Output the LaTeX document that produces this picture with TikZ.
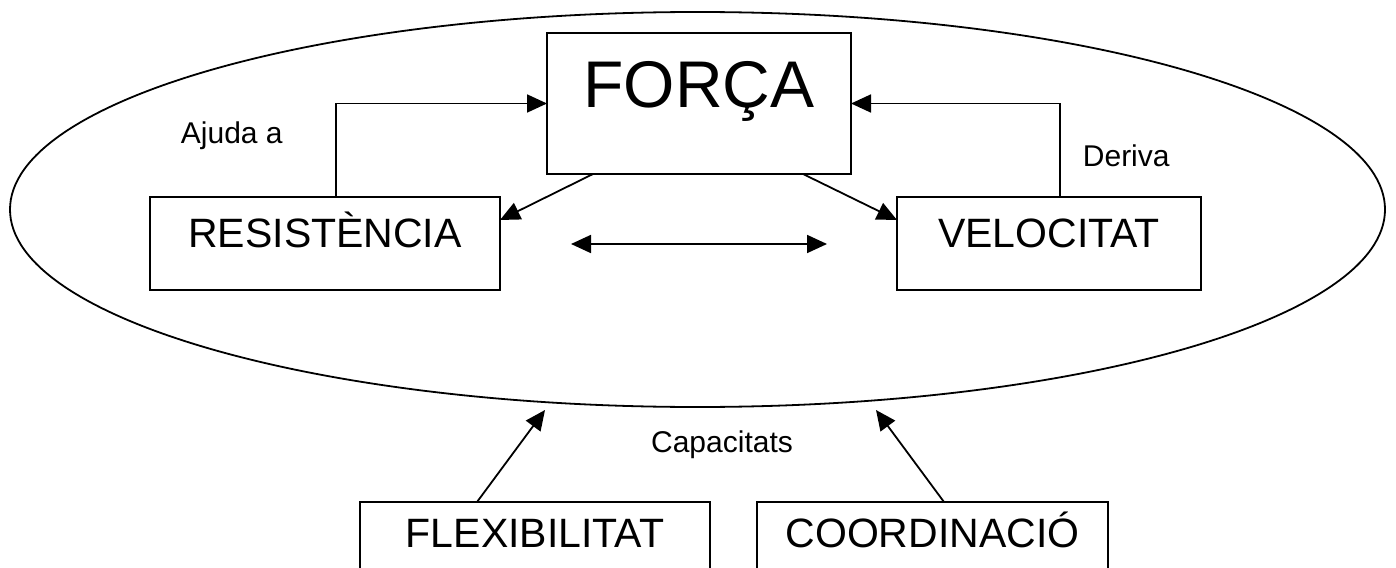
\documentclass[tikz,border=0pt]{standalone}
\usepackage{fontspec}
\setmainfont{Liberation Sans}
\usetikzlibrary{arrows.meta,shapes.geometric}
\begin{document}
\begin{tikzpicture}[x=1pt,y=-1pt,
  line width=1.8pt,
  box/.style={draw, inner sep=0pt, outer sep=0pt, anchor=north west,
    font=\fontsize{41}{41}\selectfont},
  bigbox/.style={box, font=\fontsize{66}{66}\selectfont},
  note/.style={inner sep=0pt, anchor=base west, font=\fontsize{30}{30}\selectfont},
  arr/.style={-{Triangle[length=20pt,width=18pt]}},
  darr/.style={{Triangle[length=20pt,width=18pt]}-{Triangle[length=20pt,width=18pt]}}
]
\useasboundingbox (0,0) rectangle (1396,567);
\clip (0,0) rectangle (1396,567);

% the enclosing oval
\node[draw, ellipse, inner sep=0pt, outer sep=0pt,
      minimum width=1375pt, minimum height=395pt] (cap) at (697.5,209.5) {};

% boxes
\node[bigbox, minimum width=304pt, text height=74pt, text depth=67pt] (force) at (547,33) {FORÇA};
\node[box, minimum width=350pt, text height=50pt, text depth=43pt] (res) at (150,197) {RESISTÈNCIA};
\node[box, minimum width=304pt, text height=50pt, text depth=43pt] (vel) at (897,197) {VELOCITAT};
\node[box, minimum width=350pt, text height=45pt, text depth=60pt] (flex) at (360,502) {FLEXIBILITAT};
\node[box, minimum width=351pt, text height=45pt, text depth=60pt] (coord) at (757,502) {COORDINACIÓ};

% labels
\node[note] (ajuda) at (180,143) {Ajuda a};
\node[note] (deriva) at (1082,166) {Deriva};
\node[note, anchor=base] (capt) at (722,452) {Capacitats};

% connectors
\draw[arr] ([xshift=186pt]res.north west) |- (force.west);
\draw[arr] ([xshift=163pt]vel.north west) |- (force.east);
\draw[arr] ([xshift=46pt]force.south west) -- ([yshift=-23pt]res.north east);
\draw[arr] ([xshift=-48pt]force.south east) -- ([yshift=-23pt]vel.north west);

\coordinate (dl) at (571,244);
\coordinate (dr) at (827,244);
\draw[darr] (dl) -- (dr);

\coordinate (capL) at (545,410);
\coordinate (capR) at (876,410);
\draw[arr] ([xshift=117pt]flex.north west) -- (capL);
\draw[arr] ([xshift=-164pt]coord.north east) -- (capR);
\end{tikzpicture}
\end{document}
